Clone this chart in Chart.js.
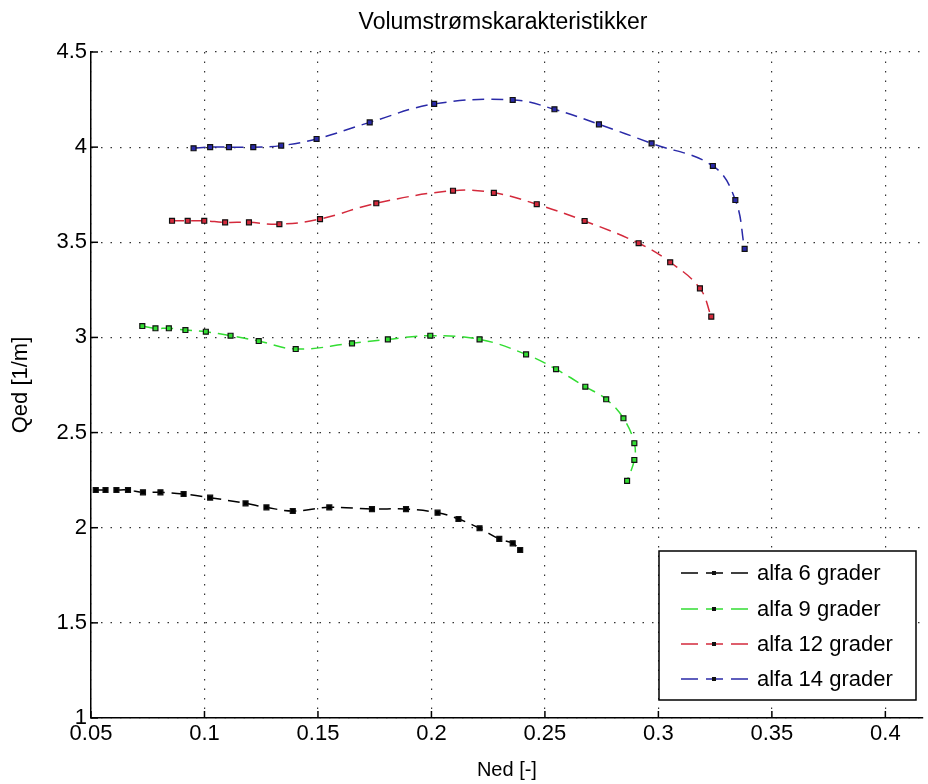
<!DOCTYPE html>
<html lang="no">
<head>
    <meta charset="UTF-8">
    <title>Volumstrømskarakteristikker</title>
    <script src="https://cdn.jsdelivr.net/npm/chart.js"></script>
    <style>
        body {
            margin: 0;
            background-color: #fff;
        }
        #wrap {
            width: 928px;
            height: 784px;
        }
    </style>
</head>
<body>
    <div id="wrap">
        <canvas id="qedChart" width="928" height="784"></canvas>
    </div>

    <script>
        // Data (Ned [-] vs Qed [1/m])
        const seriesLabels = ['alfa 6 grader', 'alfa 9 grader', 'alfa 12 grader', 'alfa 14 grader'];
        const seriesColors = ['#000000', '#33dd33', '#d42a3c', '#2a2aa8'];

        const ned6 = [0.0521, 0.0564, 0.0612, 0.0663, 0.0729, 0.0806, 0.0908, 0.1025, 0.1181, 0.1273,
                      0.1389, 0.155, 0.1738, 0.1888, 0.2027, 0.2119, 0.2212, 0.2299, 0.2358, 0.2391];
        const qed6 = [2.198, 2.198, 2.198, 2.198, 2.186, 2.186, 2.177, 2.158, 2.128, 2.107,
                      2.088, 2.107, 2.098, 2.098, 2.079, 2.046, 1.997, 1.941, 1.918, 1.883];

        const ned9 = [0.0726, 0.0784, 0.0843, 0.0916, 0.1006, 0.1115, 0.1239, 0.1402, 0.165, 0.1808,
                      0.1995, 0.2212, 0.2417, 0.2549, 0.2678, 0.277, 0.2846, 0.2894, 0.2894, 0.2862];
        const qed9 = [3.06, 3.048, 3.048, 3.039, 3.03, 3.009, 2.981, 2.939, 2.969, 2.99,
                      3.009, 2.99, 2.911, 2.833, 2.741, 2.675, 2.575, 2.444, 2.356, 2.246];

        const ned12 = [0.0857, 0.0926, 0.0999, 0.1091, 0.1196, 0.133, 0.1509, 0.1757, 0.2095, 0.2275,
                       0.2464, 0.2675, 0.2913, 0.3052, 0.3183, 0.3233];
        const qed12 = [3.613, 3.613, 3.613, 3.605, 3.605, 3.595, 3.622, 3.705, 3.771, 3.76,
                       3.70, 3.612, 3.495, 3.395, 3.258, 3.109];

        const ned14 = [0.0952, 0.1025, 0.1108, 0.1215, 0.1338, 0.1494, 0.1728, 0.2012, 0.2358, 0.2542,
                       0.2738, 0.297, 0.324, 0.3339, 0.338];
        const qed14 = [3.994, 4.0, 4.0, 4.0, 4.008, 4.043, 4.13, 4.227, 4.248, 4.199,
                       4.12, 4.02, 3.901, 3.722, 3.465];

        const xTicks = [0.05, 0.1, 0.15, 0.2, 0.25, 0.3, 0.35, 0.4];
        const yTicks = [1, 1.5, 2, 2.5, 3, 3.5, 4, 4.5];

        const FONT = "'Liberation Sans', Arial, sans-serif";
        const DASH = [12, 7];

        function toPoints(xs, ys) {
            return xs.map((v, i) => ({ x: v, y: ys[i] }));
        }

        const allX = [ned6, ned9, ned12, ned14];
        const allY = [qed6, qed9, qed12, qed14];

        const datasets = seriesLabels.map((label, i) => ({
            label: label,
            data: toPoints(allX[i], allY[i]),
            showLine: true,
            borderColor: seriesColors[i],
            borderWidth: 1.5,
            borderDash: DASH,
            tension: 0.4,
            pointStyle: 'rect',
            pointRadius: 3.5,
            pointBorderWidth: 1.2,
            pointBorderColor: '#111',
            pointBackgroundColor: seriesColors[i]
        }));

        // MATLAB-like extras: inward ticks, title and the boxed legend
        const extras = {
            id: 'extras',
            afterDraw(chart) {
                const { ctx, chartArea: a, scales: { x, y } } = chart;
                ctx.save();

                ctx.strokeStyle = '#000';
                ctx.lineWidth = 1.5;
                xTicks.forEach(v => {
                    const px = x.getPixelForValue(v);
                    ctx.beginPath();
                    ctx.moveTo(px, a.bottom);
                    ctx.lineTo(px, a.bottom - 7);
                    ctx.stroke();
                });
                yTicks.forEach(v => {
                    const py = y.getPixelForValue(v);
                    ctx.beginPath();
                    ctx.moveTo(a.left, py);
                    ctx.lineTo(a.left + 7, py);
                    ctx.stroke();
                });

                // title
                ctx.fillStyle = '#000';
                ctx.font = '23px ' + FONT;
                ctx.textAlign = 'center';
                ctx.textBaseline = 'middle';
                ctx.fillText('Volumstrømskarakteristikker', 503, 23);

                // legend box
                const lx = 659, ly = 551, lw = 257, lh = 149;
                ctx.fillStyle = '#fff';
                ctx.fillRect(lx, ly, lw, lh);
                ctx.strokeStyle = '#000';
                ctx.lineWidth = 1.5;
                ctx.strokeRect(lx, ly, lw, lh);

                const rows = [573, 609, 644, 679];
                ctx.font = '22px ' + FONT;
                ctx.textAlign = 'left';
                chart.data.datasets.forEach((ds, i) => {
                    const ry = rows[i];
                    ctx.strokeStyle = ds.borderColor;
                    ctx.lineWidth = 1.5;
                    ctx.setLineDash([17, 8]);
                    ctx.beginPath();
                    ctx.moveTo(681, ry);
                    ctx.lineTo(749, ry);
                    ctx.stroke();
                    ctx.setLineDash([]);
                    ctx.fillStyle = '#111';
                    ctx.fillRect(712, ry - 2, 4, 4);
                    ctx.fillStyle = '#000';
                    ctx.fillText(ds.label, 757, ry + 1);
                });

                ctx.restore();
            }
        };

        const gridOpts = {
            color: 'rgba(0,0,0,0.8)',
            lineWidth: 1.2,
            drawTicks: false
        };
        const borderOpts = {
            display: true,
            color: '#000',
            width: 1.5,
            dash: [1.5, 8]
        };

        new Chart(document.getElementById('qedChart').getContext('2d'), {
            type: 'scatter',
            data: { datasets: datasets },
            plugins: [extras],
            options: {
                responsive: false,
                animation: false,
                layout: { padding: { top: 52, right: 0, left: 0, bottom: 0 } },
                plugins: {
                    legend: { display: false },
                    tooltip: { enabled: false },
                    title: { display: false }
                },
                scales: {
                    x: {
                        type: 'linear',
                        min: 0.05,
                        max: 0.4165,
                        afterBuildTicks: s => { s.ticks = xTicks.map(v => ({ value: v })); },
                        afterFit: s => { s.height = 66; },
                        grid: gridOpts,
                        border: borderOpts,
                        ticks: {
                            color: '#000',
                            padding: 3,
                            font: { family: FONT, size: 22 },
                            callback: v => String(v)
                        },
                        title: {
                            display: true,
                            text: 'Ned [-]',
                            color: '#000',
                            font: { family: FONT, size: 20 },
                            padding: { top: 0, bottom: 2 }
                        }
                    },
                    y: {
                        type: 'linear',
                        min: 1,
                        max: 4.5,
                        afterBuildTicks: s => { s.ticks = yTicks.map(v => ({ value: v })); },
                        afterFit: s => { s.width = 91; },
                        grid: gridOpts,
                        border: borderOpts,
                        ticks: {
                            color: '#000',
                            padding: 4,
                            font: { family: FONT, size: 22 },
                            callback: v => String(v)
                        },
                        title: {
                            display: true,
                            text: 'Qed [1/m]',
                            color: '#000',
                            font: { family: FONT, size: 22 },
                            padding: { top: 8, bottom: 0 }
                        }
                    }
                }
            }
        });
    </script>
</body>
</html>
